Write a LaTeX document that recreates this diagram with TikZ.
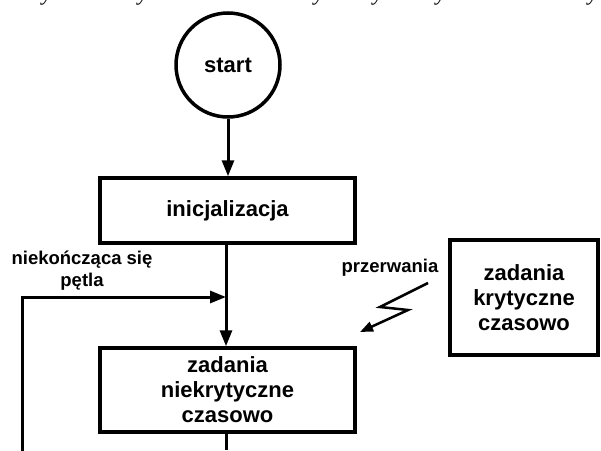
\documentclass[tikz,border=0pt]{standalone}
\usepackage{fontspec}
\setmainfont{Liberation Sans}
\newfontfamily\captionserif{Liberation Serif}
\usetikzlibrary{arrows.meta}

\tikzset{
  flow/.style={line width=3pt, draw=black},
  arr/.style={flow, -{Triangle[length=16pt,width=12pt]}},
  boxtext/.style={font=\fontsize{22}{25}\selectfont\bfseries, align=center},
  stepbox/.style={boxtext, draw=black, line width=3.5pt, rectangle, inner sep=0pt},
  startnode/.style={boxtext, draw=black, line width=3.5pt, circle, minimum size=104pt, inner sep=0pt},
  note/.style={font=\fontsize{18.5}{22}\selectfont\bfseries, align=center, inner sep=0pt},
}

\begin{document}
\begin{tikzpicture}[x=1pt, y=-1pt]
  \useasboundingbox (0,0) rectangle (601,450);

  % descenders of the caption line running above the frame
  \begin{scope}
    \clip (0,0) rectangle (601,450);
    \foreach \px in {47,143,319,378,441,593}
      \node[anchor=base, inner sep=0pt, font=\captionserif\itshape\fontsize{22}{22}\selectfont]
        (y\px) at (\px,0) {y};
  \end{scope}

  % flow chart
  \node[startnode] (start) at (228,65) {start};
  \node[stepbox, minimum width=255pt, minimum height=65pt] (init) at (227.5,210.5) {inicjalizacja};
  \node[stepbox, minimum width=255pt, minimum height=84pt] (task) at (227.5,390) {zadania\\niekrytyczne\\czasowo};
  \node[stepbox, minimum width=148pt, minimum height=115pt] (crit) at (524,297.5) {zadania\\krytyczne\\czasowo};

  \draw[arr] (start.south) -- (init.north -| start.south);
  \draw[arr] (init.south -| 226,0) -- (task.north -| 226,0);
  \coordinate (below) at (226,450);
  \draw[flow] (task.south -| 226,0) -- (below);

  % endless loop back into the main line
  \coordinate (loopbot) at (22,452);
  \coordinate (loopcorner) at (22,297);
  \coordinate (loopend) at (226,297);
  \draw[arr, line join=miter] (loopbot) -- (loopcorner) -- (loopend);
  \node[note] (looplabel) at (82,271) {niekończąca się\\pętla};

  % interrupt lightning
  \node[note] (irq) at (390,268) {przerwania};
  \coordinate (z1) at (428,283);
  \coordinate (z2) at (380,307);
  \coordinate (z3) at (408,310);
  \coordinate (z4) at (360,332);
  \draw[line width=2.5pt, line join=miter, -{Triangle[length=13pt,width=10pt]}]
    (z1) -- (z2) -- (z3) -- (z4);
\end{tikzpicture}
\end{document}
